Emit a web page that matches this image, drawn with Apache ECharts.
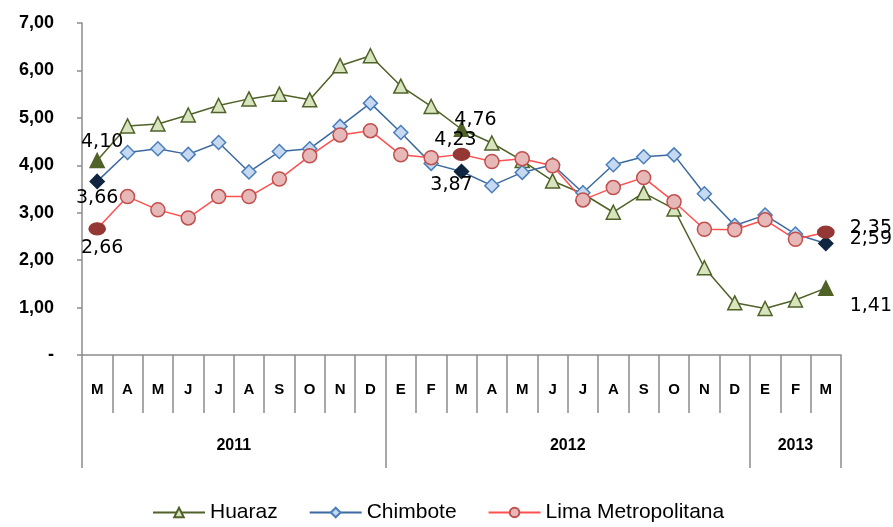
<!DOCTYPE html>
<html>
<head>
    <meta charset="utf-8">
    <script src="https://cdn.jsdelivr.net/npm/echarts@6/dist/echarts.min.js"></script>
    <style>
        html, body { width: 100%; height: 100%; margin: 0; background: #fff; }
    </style>
</head>
<body>
    <div id="main" style="width: 893px;height:527px;"></div>
    <script>
        // months from March 2011 to March 2013
        var months = ['M', 'A', 'M', 'J', 'J', 'A', 'S', 'O', 'N', 'D',
            'E', 'F', 'M', 'A', 'M', 'J', 'J', 'A', 'S', 'O', 'N', 'D',
            'E', 'F', 'M'];
        var years = ['2011', '2012', '2013'];
        var yearMonthCounts = [10, 12, 3];

        var huaraz = [4.10, 4.83, 4.87, 5.06, 5.26, 5.40, 5.50, 5.38, 6.10, 6.31,
            5.67, 5.24, 4.76, 4.47, 4.10, 3.67, 3.40, 3.01, 3.42, 3.08, 1.84, 1.10,
            0.98, 1.16, 1.41];
        var chimbote = [3.66, 4.27, 4.35, 4.23, 4.48, 3.86, 4.29, 4.35, 4.82, 5.31,
            4.69, 4.04, 3.87, 3.57, 3.85, 4.01, 3.42, 4.01, 4.18, 4.22, 3.40, 2.73,
            2.95, 2.55, 2.35];
        var lima = [2.66, 3.34, 3.06, 2.89, 3.34, 3.34, 3.71, 4.20, 4.64, 4.73,
            4.22, 4.16, 4.23, 4.08, 4.14, 3.99, 3.27, 3.53, 3.74, 3.23, 2.65, 2.64,
            2.85, 2.44, 2.59];
        var labelled = [0, 12, 24];

        function fmt(v) {
            return v.toFixed(2).replace('.', ',');
        }

        // year boundaries and label centers on the month scale
        var yearBounds = [0];
        var yearCenters = [];
        yearMonthCounts.forEach(function (c, i) {
            yearCenters.push(yearBounds[i] + c / 2);
            yearBounds.push(yearBounds[i] + c);
        });

        function buildData(values, darkColor, offsets, darkSize) {
            return values.map(function (v, i) {
                var k = labelled.indexOf(i);
                if (k < 0) return v;
                var item = {
                    value: v,
                    itemStyle: { color: darkColor, borderColor: darkColor },
                    label: {
                        show: true,
                        position: 'inside',
                        offset: offsets[k],
                        formatter: function (p) { return fmt(p.value); },
                        color: '#000',
                        fontFamily: 'DejaVu Sans',
                        fontSize: 19
                    }
                };
                if (darkSize) item.symbolSize = darkSize;
                return item;
            });
        }

        var chart = echarts.init(document.getElementById('main'));

        var option = {
            animation: false,
            grid: { left: 82, right: 52, top: 23, bottom: 172 },
            legend: {
                bottom: -1,
                left: 147,
                itemWidth: 52,
                itemHeight: 12,
                itemGap: 31,
                textStyle: { fontFamily: 'Liberation Sans', fontSize: 21, color: '#000' },
                data: ['Huaraz', 'Chimbote', 'Lima Metropolitana']
            },
            xAxis: [{
                type: 'category',
                data: months,
                boundaryGap: true,
                axisLine: { lineStyle: { color: '#8c8c8c', width: 1.5 } },
                axisTick: { show: true, interval: 0, length: 58, lineStyle: { color: '#8c8c8c', width: 1.5 } },
                axisLabel: {
                    interval: 0, margin: 27,
                    fontFamily: 'Liberation Sans', fontWeight: 'bold', fontSize: 15, color: '#000'
                }
            }, {
                type: 'value',
                position: 'bottom',
                min: 0,
                max: months.length,
                axisLine: { show: false },
                splitLine: { show: false },
                axisTick: {
                    show: true, length: 113, customValues: yearBounds,
                    lineStyle: { color: '#8c8c8c', width: 1.5 }
                },
                axisLabel: {
                    customValues: yearCenters,
                    margin: 83,
                    fontFamily: 'Liberation Sans', fontWeight: 'bold', fontSize: 16, color: '#000',
                    formatter: function (v) {
                        return years[yearCenters.indexOf(v)];
                    }
                }
            }],
            yAxis: {
                type: 'value',
                min: 0,
                max: 7,
                interval: 1,
                axisLine: { show: true, lineStyle: { color: '#8c8c8c', width: 1.5 } },
                axisTick: { show: true, length: 5, lineStyle: { color: '#8c8c8c', width: 1.5 } },
                splitLine: { show: false },
                axisLabel: {
                    margin: 28,
                    fontFamily: 'Liberation Sans', fontWeight: 'bold', fontSize: 18, color: '#000',
                    formatter: function (v) { return v === 0 ? '-' : fmt(v); }
                }
            },
            series: [{
                name: 'Huaraz',
                type: 'line',
                symbol: 'triangle',
                symbolSize: 14,
                color: '#4f6228',
                lineStyle: { color: '#4f6228', width: 1.5 },
                itemStyle: { color: '#d7e4bd', borderColor: '#4f6228', borderWidth: 1.5 },
                data: buildData(huaraz, '#4f6228', [[5, -18], [14, -9], [45, 18]])
            }, {
                name: 'Chimbote',
                type: 'line',
                symbol: 'diamond',
                symbolSize: 14,
                color: '#4a7ebb',
                lineStyle: { color: '#3b69a0', width: 1.5 },
                itemStyle: { color: '#c6d9f1', borderColor: '#4a7ebb', borderWidth: 1.5 },
                data: buildData(chimbote, '#10253f', [[0, 17], [-10, 14], [45, -15]])
            }, {
                name: 'Lima Metropolitana',
                type: 'line',
                symbol: 'circle',
                symbolSize: 14,
                color: '#ff5050',
                lineStyle: { color: '#ff5050', width: 1.5 },
                itemStyle: { color: '#e6b9b8', borderColor: '#c0504d', borderWidth: 1.5 },
                data: buildData(lima, '#953735', [[5, 19], [-6, -14], [45, 7]], [16, 12])
            }]
        };
        chart.setOption(option);
    </script>
</body>
</html>
